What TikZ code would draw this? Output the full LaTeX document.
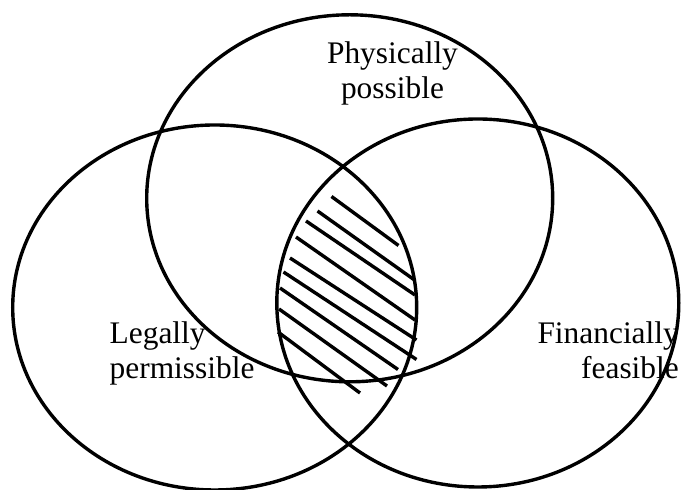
\documentclass[tikz,border=0pt]{standalone}
\usepackage{fontspec}
\setmainfont{Liberation Serif}
\usepackage{tikz}
\usetikzlibrary{shapes.geometric}

\begin{document}
\begin{tikzpicture}[x=0.5pt, y=-0.5pt, line width=1.7pt,
        set/.style={draw, ellipse, inner sep=0pt},
        lbl/.style={inner sep=0pt, font=\fontsize{15.7}{17.4}\selectfont}]
        \useasboundingbox (0,0) rectangle (681,490);

        \node[set, minimum width=203pt, minimum height=183.5pt] (phys) at (349.7,198.3) {};
        \node[set, minimum width=202pt, minimum height=182.5pt] (legal) at (214.7,307.5) {};
        \node[set, minimum width=201pt, minimum height=184pt] (fin) at (477.8,303) {};

        \node[lbl, align=center, anchor=north] (physlbl) at (392.5,40) {Physically\\possible};
        \node[lbl, align=left, anchor=north west] (legallbl) at (108,320) {Legally\\permissible};
        \node[lbl, align=right, anchor=north east] (finlbl) at (680.5,320) {Financially\\feasible};

        % hatching of the common part
        \draw (331.5,196.5) -- (398.5,245.5);
        \draw (317.5,211) -- (414.5,280);
        \draw (306,221) -- (415,295);
        \draw (296,237) -- (415,320);
        \draw (290,258) -- (416.5,340);
        \draw (283.5,272) -- (416.5,359.5);
        \draw (280,288) -- (398,369.5);
        \draw (279,309) -- (387,386);
        \draw (278,332) -- (360,393);
    \end{tikzpicture}
\end{document}
